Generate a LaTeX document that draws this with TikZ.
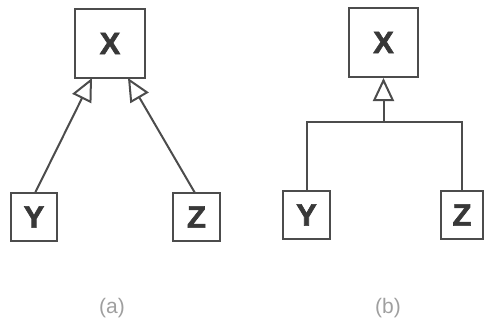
\documentclass[tikz,border=0pt]{standalone}
\usepackage{fontspec}
\setmainfont{Liberation Sans}
\newfontfamily\classfont{Liberation Sans Bold}[FakeBold=2]
\usetikzlibrary{arrows.meta}
\definecolor{ink}{gray}{0.3}
\definecolor{letter}{gray}{0.22}
\begin{document}
\begin{tikzpicture}[x=1pt,y=-1pt,
  cls/.style={draw=ink,line width=2pt,fill=white,inner sep=0pt,
    font=\classfont\fontsize{31}{31}\selectfont,text=letter},
  gen/.style={draw=ink,line width=2pt,
    -{Triangle[open,width=21pt,length=23pt,line width=2pt]}},
  link/.style={draw=ink,line width=2pt},
  sublabel/.style={text=gray!75,font=\fontsize{21}{21}\selectfont}]
\useasboundingbox (0,0) rectangle (485,322);
% (a) each subclass points directly at X
\node[cls,minimum width=70pt,minimum height=69pt] (xa) at (110,43.5) {X};
\node[cls,minimum width=46pt,minimum height=48pt] (ya) at (34,217) {Y};
\node[cls,minimum width=47pt,minimum height=48pt] (za) at (196.5,217) {Z};
\coordinate (ya-top) at (35,193);
\coordinate (za-top) at (195,193);
\coordinate (xa-in1) at (92,78);
\coordinate (xa-in2) at (128,78);
\draw[gen] (ya-top) -- (xa-in1);
\draw[gen] (za-top) -- (xa-in2);
\node[sublabel] (capa) at (112,308) {(a)};
% (b) subclasses share one generalization arrow
\node[cls,minimum width=69pt,minimum height=69pt] (xb) at (383.5,42.5) {X};
\node[cls,minimum width=47pt,minimum height=48pt] (yb) at (306.5,215) {Y};
\node[cls,minimum width=42pt,minimum height=48pt] (zb) at (462,215) {Z};
\coordinate (join) at (383.5,122);
\draw[link] (yb.north) |- (join) -| (zb.north);
\draw[gen] (join) -- (xb.south);
\node[sublabel] (capb) at (388,308) {(b)};
\end{tikzpicture}
\end{document}
